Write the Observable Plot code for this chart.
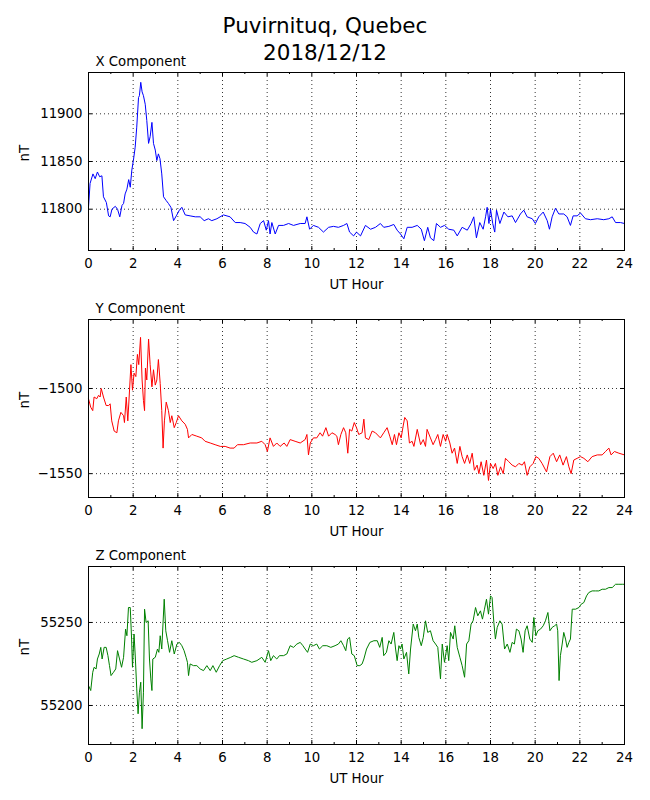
<!DOCTYPE html>
<html><head><meta charset="utf-8">
<script src="https://cdn.jsdelivr.net/npm/d3@7"></script>
<script src="https://cdn.jsdelivr.net/npm/@observablehq/plot@0.6"></script>
<style>
body{margin:0;background:#fff;font-family:"DejaVu Sans",sans-serif;}
#wrap{position:relative;width:650px;height:800px;background:#fff;}
#title{position:absolute;top:12px;left:0;width:650px;text-align:center;font-size:21.5px;line-height:27px;color:#000;font-family:"DejaVu Sans",sans-serif;}
#panels{position:absolute;top:48px;left:0;}
#panels svg{display:block;}
</style></head>
<body><div id="wrap"><div id="panels"></div><div id="title">Puvirnituq, Quebec<br>2018/12/12</div></div>
<script>
const titleLines = ["Puvirnituq, Quebec", "2018/12/12"];
const xLabel = "UT Hour";
const yLabel = "nT";
const hourTicks = [0,2,4,6,8,10,12,14,16,18,20,22,24];
const minorHourTicks = [1,3,5,7,9,11,13,15,17,19,21,23];

const xHours = [0,0.07,0.2,0.3,0.4,0.5,0.6,0.67,0.8,0.9,0.97,1.05,1.2,1.3,1.4,1.5,1.57,1.64,1.72,1.8,1.87,1.94,2.01,2.09,2.16,2.24,2.28,2.34,2.4,2.46,2.54,2.61,2.69,2.76,2.84,2.91,2.99,3.06,3.13,3.2,3.28,3.36,3.48,3.58,3.69,3.81,3.93,4.07,4.18,4.33,4.55,4.78,5.0,5.18,5.37,5.52,5.75,6.04,6.34,6.57,6.79,7.01,7.24,7.39,7.54,7.69,7.84,7.96,8.06,8.13,8.21,8.36,8.51,8.73,8.96,9.18,9.48,9.7,9.78,9.9,10.07,10.3,10.52,10.75,10.97,11.19,11.42,11.57,11.69,11.87,12.0,12.18,12.4,12.63,12.85,13.07,13.22,13.45,13.67,13.82,13.97,14.12,14.27,14.49,14.72,14.9,15.04,15.19,15.31,15.46,15.58,15.76,15.94,16.13,16.36,16.51,16.73,16.96,17.13,17.25,17.37,17.52,17.67,17.78,17.85,17.93,18.0,18.1,18.19,18.27,18.42,18.6,18.78,18.97,19.12,19.34,19.49,19.64,19.87,20.01,20.16,20.36,20.54,20.64,20.76,20.91,21.06,21.28,21.43,21.58,21.7,21.88,22.03,22.25,22.48,22.78,23.07,23.3,23.45,23.6,23.82,24.0];
const xValues = [11802,11827,11837,11832,11839,11834,11835,11813,11807,11793,11792,11800,11803,11800,11792,11804,11806,11816,11821,11831,11823,11841,11851,11865,11886,11917,11919,11933,11923,11919,11910,11893,11869,11876,11891,11869,11862,11851,11858,11853,11837,11813,11809,11806,11802,11788,11793,11799,11802,11794,11793,11792,11792,11788,11790,11788,11790,11794,11792,11786,11786,11785,11781,11776,11774,11785,11788,11778,11788,11774,11786,11774,11783,11783,11785,11783,11785,11785,11792,11779,11783,11781,11776,11781,11782,11781,11783,11785,11776,11772,11776,11772,11783,11779,11781,11785,11781,11782,11784,11778,11774,11769,11781,11781,11783,11779,11767,11781,11770,11767,11785,11781,11783,11779,11778,11772,11781,11778,11785,11792,11770,11786,11779,11792,11802,11785,11800,11785,11776,11799,11785,11797,11792,11793,11786,11795,11799,11792,11790,11785,11792,11797,11788,11779,11792,11801,11795,11795,11792,11783,11793,11793,11796,11790,11789,11790,11789,11790,11792,11786,11786,11785];

const yHours = [0,0.1,0.19,0.25,0.37,0.45,0.52,0.57,0.67,0.79,0.9,0.97,1.04,1.15,1.27,1.34,1.45,1.57,1.61,1.69,1.76,1.82,1.9,1.97,2.04,2.12,2.19,2.25,2.33,2.4,2.46,2.51,2.55,2.61,2.69,2.76,2.84,2.91,2.99,3.06,3.13,3.21,3.28,3.34,3.4,3.48,3.58,3.66,3.73,3.84,3.93,4.03,4.18,4.33,4.43,4.48,4.63,4.85,5.07,5.22,5.45,5.67,5.9,6.12,6.34,6.52,6.67,6.94,7.24,7.54,7.76,7.91,8.01,8.13,8.28,8.43,8.58,8.76,8.88,9.03,9.25,9.48,9.7,9.78,9.85,9.93,10.07,10.22,10.37,10.48,10.63,10.75,10.9,11.04,11.12,11.19,11.3,11.42,11.52,11.61,11.69,11.79,11.9,12.0,12.1,12.25,12.33,12.4,12.55,12.7,12.85,13.07,13.22,13.37,13.49,13.6,13.7,13.79,13.9,14.0,14.09,14.16,14.27,14.37,14.49,14.57,14.72,14.87,14.99,15.09,15.16,15.31,15.43,15.54,15.64,15.76,15.88,15.99,16.06,16.18,16.28,16.39,16.51,16.63,16.73,16.84,16.96,17.07,17.18,17.28,17.4,17.48,17.58,17.7,17.82,17.91,18.0,18.12,18.22,18.33,18.45,18.57,18.67,18.82,18.97,19.12,19.27,19.42,19.52,19.64,19.76,19.91,20.03,20.16,20.31,20.51,20.66,20.81,20.96,21.1,21.25,21.4,21.51,21.61,21.73,21.88,22.03,22.18,22.36,22.55,22.78,23.0,23.15,23.3,23.4,23.55,23.75,24.0];
const yValues = [-1506,-1511,-1513,-1505,-1506,-1504,-1505,-1500,-1505,-1510,-1510,-1509,-1519,-1525,-1526,-1519,-1514,-1516,-1520,-1505,-1519,-1505,-1486,-1501,-1491,-1493,-1480,-1486,-1470,-1495,-1507,-1513,-1488,-1495,-1471,-1486,-1499,-1489,-1498,-1495,-1483,-1497,-1513,-1535,-1519,-1508,-1513,-1520,-1516,-1523,-1520,-1516,-1519,-1521,-1524,-1529,-1527,-1528,-1529,-1531,-1532,-1533,-1534,-1534,-1535,-1535,-1533,-1533,-1532,-1532,-1531,-1533,-1537,-1529,-1534,-1532,-1534,-1532,-1534,-1530,-1531,-1532,-1530,-1527,-1539,-1532,-1529,-1529,-1526,-1528,-1523,-1528,-1526,-1527,-1528,-1533,-1527,-1523,-1526,-1538,-1524,-1525,-1520,-1523,-1527,-1526,-1518,-1529,-1530,-1525,-1526,-1529,-1526,-1523,-1528,-1533,-1527,-1533,-1526,-1529,-1522,-1517,-1519,-1532,-1531,-1534,-1524,-1533,-1530,-1534,-1524,-1529,-1533,-1530,-1527,-1534,-1527,-1531,-1527,-1532,-1538,-1535,-1544,-1534,-1540,-1544,-1539,-1544,-1538,-1548,-1545,-1550,-1543,-1551,-1542,-1554,-1544,-1547,-1544,-1551,-1546,-1550,-1541,-1543,-1545,-1546,-1544,-1545,-1543,-1551,-1546,-1544,-1540,-1541,-1544,-1549,-1540,-1538,-1543,-1539,-1545,-1540,-1546,-1550,-1542,-1541,-1540,-1541,-1543,-1540,-1539,-1539,-1537,-1535,-1539,-1537,-1538,-1539];

const zHours = [0,0.1,0.19,0.25,0.34,0.4,0.48,0.55,0.61,0.7,0.79,0.87,0.94,1.01,1.12,1.22,1.3,1.39,1.48,1.57,1.66,1.72,1.79,1.87,1.93,1.97,2.04,2.1,2.16,2.22,2.28,2.34,2.4,2.46,2.51,2.58,2.67,2.73,2.79,2.84,2.88,2.99,3.09,3.15,3.21,3.28,3.39,3.46,3.54,3.63,3.73,3.84,3.96,4.07,4.18,4.28,4.37,4.43,4.48,4.55,4.7,4.85,5.0,5.15,5.3,5.45,5.57,5.72,5.87,6.01,6.19,6.37,6.52,6.72,6.94,7.16,7.31,7.54,7.76,7.91,8.06,8.16,8.28,8.43,8.55,8.73,8.88,9.03,9.18,9.33,9.48,9.6,9.7,9.81,9.93,10.07,10.22,10.34,10.49,10.67,10.85,11.04,11.19,11.3,11.42,11.52,11.6,11.69,11.79,11.9,12.03,12.15,12.25,12.33,12.45,12.6,12.78,12.93,13.04,13.15,13.22,13.34,13.45,13.55,13.67,13.75,13.82,13.9,13.97,14.04,14.12,14.24,14.34,14.42,14.54,14.64,14.72,14.79,14.9,14.99,15.09,15.19,15.31,15.43,15.54,15.64,15.76,15.84,15.94,16.06,16.13,16.21,16.33,16.4,16.51,16.63,16.73,16.84,16.93,17.03,17.13,17.22,17.33,17.43,17.55,17.64,17.73,17.82,17.91,18.0,18.07,18.15,18.22,18.3,18.42,18.52,18.63,18.75,18.87,18.97,19.07,19.16,19.27,19.37,19.46,19.55,19.64,19.76,19.87,19.94,20.03,20.12,20.24,20.36,20.46,20.57,20.66,20.76,20.87,20.96,21.01,21.07,21.13,21.21,21.28,21.36,21.43,21.51,21.58,21.66,21.81,21.96,22.06,22.18,22.3,22.4,22.55,22.7,22.85,23.0,23.15,23.3,23.45,23.6,23.75,23.9,24.0];
const zValues = [55212,55209,55220,55223,55222,55228,55231,55235,55228,55235,55235,55230,55224,55218,55220,55222,55233,55228,55223,55229,55246,55242,55259,55259,55240,55223,55243,55228,55210,55195,55208,55214,55186,55208,55258,55250,55251,55228,55216,55209,55228,55229,55234,55232,55242,55234,55264,55245,55239,55232,55239,55231,55237,55238,55236,55233,55229,55226,55218,55225,55224,55224,55222,55221,55224,55221,55224,55220,55224,55227,55228,55229,55230,55229,55228,55227,55226,55227,55229,55226,55233,55227,55230,55228,55230,55230,55231,55236,55235,55237,55238,55236,55234,55232,55237,55236,55237,55234,55236,55236,55235,55236,55237,55239,55236,55233,55240,55241,55231,55230,55224,55224,55225,55228,55234,55238,55239,55239,55235,55241,55230,55232,55239,55237,55244,55234,55227,55236,55234,55237,55228,55232,55219,55234,55249,55245,55249,55241,55236,55241,55251,55244,55245,55239,55237,55235,55216,55237,55226,55236,55227,55244,55240,55248,55235,55229,55224,55217,55237,55239,55249,55251,55259,55254,55257,55252,55258,55264,55255,55266,55265,55250,55240,55247,55251,55249,55234,55237,55232,55238,55237,55246,55245,55240,55232,55245,55248,55240,55238,55253,55242,55245,55246,55248,55251,55256,55245,55247,55248,55249,55245,55215,55230,55237,55244,55240,55235,55238,55240,55258,55258,55259,55261,55262,55266,55268,55269,55269,55269,55270,55270,55271,55271,55273,55273,55273,55273];

const panels = [
  {name: "X Component", hours: xHours, values: xValues, color: "#0000ff", domain: [11756.7, 11943.3], ticks: [11800, 11850, 11900]},
  {name: "Y Component", hours: yHours, values: yValues, color: "#ff0000", domain: [-1564, -1459.5], ticks: [-1550, -1500]},
  {name: "Z Component", hours: zHours, values: zValues, color: "#008000", domain: [55176.5, 55283.7], ticks: [55200, 55250]}
];

const H = 178;
const container = document.getElementById("panels");
for (const p of panels) {
  const data = p.hours.map((h, i) => ({h, v: p.values[i]}));
  const chart = Plot.plot({
    width: 650, height: 247,
    marginTop: 24, marginBottom: 45, marginLeft: 88, marginRight: 26,
    style: {fontFamily: "DejaVu Sans, sans-serif", fontSize: "13.3px", color: "black", background: "white", overflow: "visible"},
    x: {domain: [0, 24], ticks: hourTicks, tickSize: 0, tickPadding: 8, label: null},
    y: {domain: p.domain, ticks: p.ticks, tickSize: 0, tickPadding: 6, label: null, tickFormat: d3.format("d")},
    marks: [
      Plot.ruleX(hourTicks.slice(1, -1), {stroke: "black", strokeDasharray: "1,3", strokeWidth: 0.8}),
      Plot.ruleY(p.ticks, {stroke: "black", strokeDasharray: "1,3", strokeWidth: 0.8}),
      Plot.line(data, {x: "h", y: "v", stroke: p.color, strokeWidth: 1}),
      Plot.ruleX(hourTicks, {stroke: "black", insetTop: H - 4}),
      Plot.ruleX(hourTicks, {stroke: "black", insetBottom: H - 4}),
      Plot.ruleX(minorHourTicks, {stroke: "black", insetTop: H - 2}),
      Plot.ruleX(minorHourTicks, {stroke: "black", insetBottom: H - 2}),
      Plot.ruleY(p.ticks, {stroke: "black", insetRight: 536 - 4}),
      Plot.ruleY(p.ticks, {stroke: "black", insetLeft: 536 - 4}),
      Plot.frame({stroke: "black", strokeWidth: 1}),
      Plot.text([p.name], {text: d => d, frameAnchor: "top-left", textAnchor: "start", lineAnchor: "bottom", dx: 7, dy: -7, fontSize: 13.3}),
      Plot.text([xLabel], {text: d => d, frameAnchor: "bottom", lineAnchor: "bottom", dy: 38, fontSize: 13.3}),
      Plot.text([yLabel], {text: d => d, frameAnchor: "left", lineAnchor: "middle", rotate: -90, dx: -64, fontSize: 13.3})
    ]
  });
  container.appendChild(chart);
}
document.getElementById("title").innerHTML = titleLines.join("<br>");
</script>
</body></html>
